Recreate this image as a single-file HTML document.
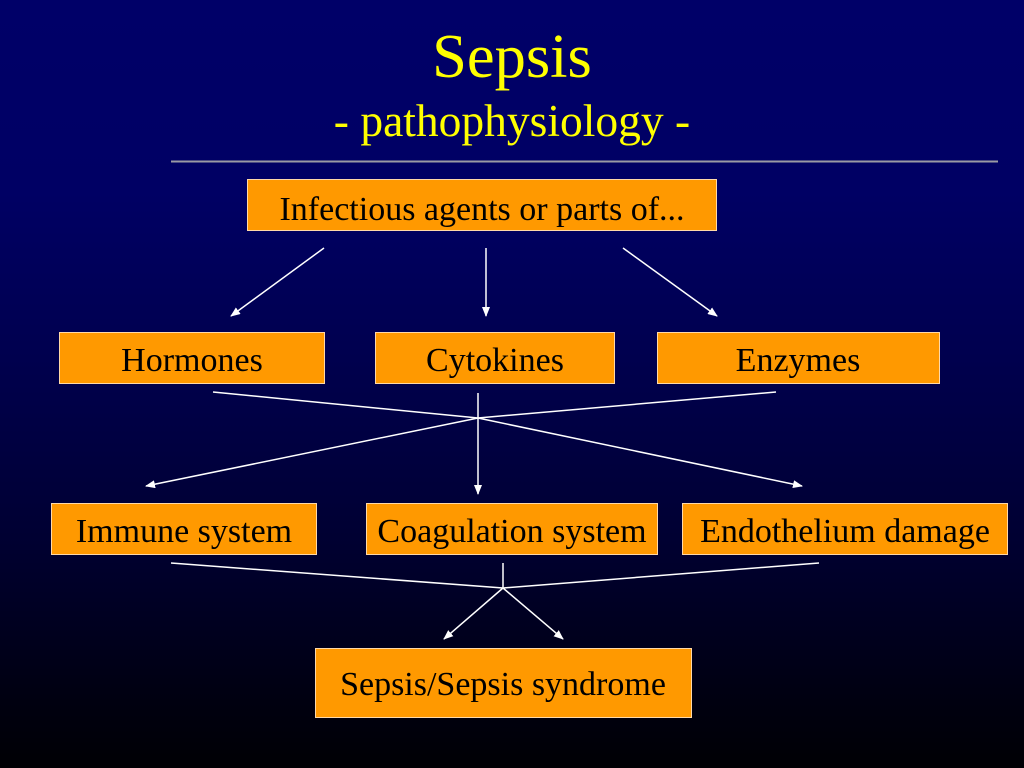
<!DOCTYPE html>
<html>
<head>
<meta charset="utf-8">
<style>
html,body{margin:0;padding:0;width:1024px;height:768px;overflow:hidden;}
body{background:linear-gradient(to bottom,#000068 0%,#000064 25%,#000050 45%,#000032 70%,#000012 90%,#000004 100%);}
svg{display:block;}
.t{font-family:"Liberation Serif","Times New Roman",serif;}
</style>
</head>
<body>
<svg width="1024" height="768" viewBox="0 0 1024 768" xmlns="http://www.w3.org/2000/svg">
<defs>
<marker id="a" markerWidth="10" markerHeight="8" refX="9" refY="4" orient="auto" markerUnits="userSpaceOnUse">
<path d="M0,0 L10,4 L0,8 Z" fill="#ffffff"/>
</marker>
</defs>

<!-- Title -->
<text class="t" x="512" y="77" text-anchor="middle" font-size="62.5" fill="#ffff00">Sepsis</text>
<text class="t" x="512" y="136" text-anchor="middle" font-size="45.5" fill="#ffff00">- pathophysiology -</text>
<line x1="171" y1="161.5" x2="998" y2="161.5" stroke="#9a9aa4" stroke-width="2"/>

<!-- Boxes -->
<g fill="#ff9900" stroke="#ffd9a8" stroke-width="1">
<rect x="247.5" y="179.5" width="469" height="51"/>
<rect x="59.5" y="332.5" width="265" height="51"/>
<rect x="375.5" y="332.5" width="239" height="51"/>
<rect x="657.5" y="332.5" width="282" height="51"/>
<rect x="51.5" y="503.5" width="265" height="51"/>
<rect x="366.5" y="503.5" width="291" height="51"/>
<rect x="682.5" y="503.5" width="325" height="51"/>
<rect x="315.5" y="648.5" width="376" height="69"/>
</g>

<g class="t" font-size="34" fill="#000000" text-anchor="middle">
<text x="482" y="220">Infectious agents or parts of...</text>
<text x="192" y="371">Hormones</text>
<text x="495" y="371">Cytokines</text>
<text x="798" y="371">Enzymes</text>
<text x="184" y="542">Immune system</text>
<text x="512" y="542">Coagulation system</text>
<text x="845" y="542">Endothelium damage</text>
<text x="503" y="695">Sepsis/Sepsis syndrome</text>
</g>

<!-- Connectors -->
<g stroke="#ffffff" stroke-width="1.5" fill="none">
<line x1="324" y1="248" x2="231" y2="316" marker-end="url(#a)"/>
<line x1="486" y1="248" x2="486" y2="316" marker-end="url(#a)"/>
<line x1="623" y1="248" x2="717" y2="316" marker-end="url(#a)"/>

<line x1="213" y1="392" x2="478" y2="418"/>
<line x1="776" y1="392" x2="478" y2="418"/>
<line x1="478" y1="393" x2="478" y2="494" marker-end="url(#a)"/>
<line x1="478" y1="418" x2="146" y2="486" marker-end="url(#a)"/>
<line x1="478" y1="418" x2="802" y2="486" marker-end="url(#a)"/>

<line x1="171" y1="563" x2="503" y2="588"/>
<line x1="819" y1="563" x2="503" y2="588"/>
<line x1="503" y1="563" x2="503" y2="588"/>
<line x1="503" y1="588" x2="444" y2="639" marker-end="url(#a)"/>
<line x1="503" y1="588" x2="563" y2="639" marker-end="url(#a)"/>
</g>
</svg>
</body>
</html>
